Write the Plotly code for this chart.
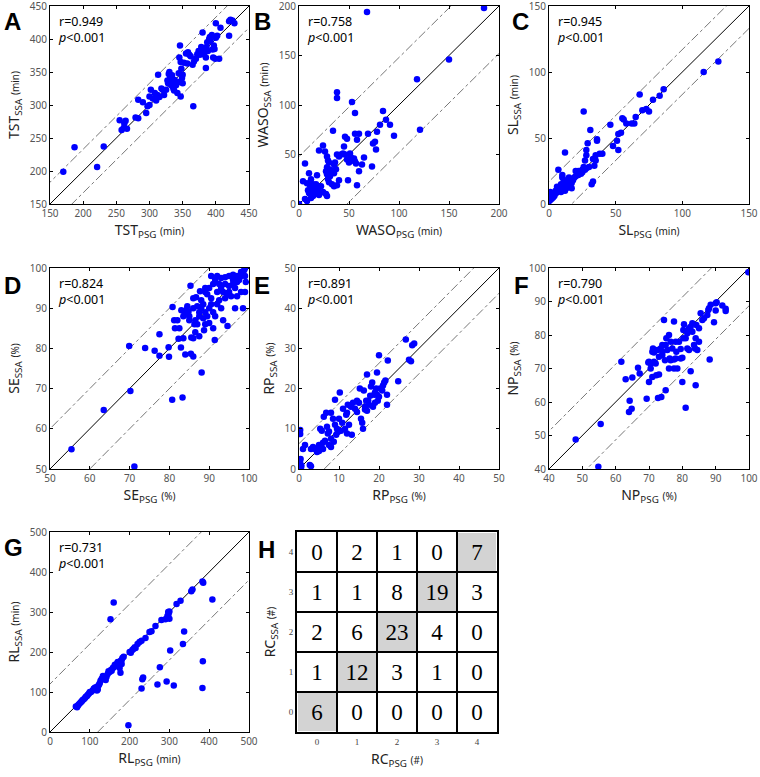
import plotly.graph_objects as go

# ---------------- DATA ----------------
tst_psg = [170,187,221,231,255,258,261,262,264,266,279,283,283,290,295,297,300,300,302,305,308,310,312,313,315,318,320,322,325,327,328,329,330,331,332,333,334,335,336,337,338,340,342,344,345,345,346,347,347,348,349,350,350,352,355,357,358,360,362,365,366,367,370,372,374,376,378,379,380,381,382,383,385,385,386,387,388,390,391,392,394,395,396,397,398,399,400,400,402,405,407,420,420,422,425,428]
tst_ssa = [199,236,206,237,277,262,265,272,276,264,281,280,308,304,288,298,300,313,323,310,318,307,315,346,312,325,323,315,323,337,333,347,350,340,335,330,345,328,325,322,338,330,318,348,335,372,390,313,365,355,341,346,333,364,378,363,380,376,374,361,298,366,370,377,382,376,388,380,410,377,383,380,356,372,388,395,382,400,403,397,406,384,372,390,385,370,424,402,405,370,417,405,427,429,428,424]

waso_psg = [0,68,185,150,118,121,38,38,53,56,34,84,87,81,91,95,78,76,74,77,73,69,60,56,58,46,48,45,24,20,6,4,10,12,8,18,26,28,29,30,28,27,30,32,28,31,29,33,30,35,36,38,40,42,44,46,48,49,50,51,52,53,55,56,57,58,60,63,65,35,38,40,37,35,33,13,15,16,18,19,20,21,14,12,10,9,8,6,22,24,28,27,17,11,14]
waso_ssa = [0,194,198,146,126,75,113,107,103,92,74,94,85,80,80,69,73,63,61,55,38,71,71,71,65,68,66,58,59,54,41,23,31,25,21,29,53,48,44,42,37,33,35,33,30,28,25,20,22,40,42,50,48,50,51,50,45,24,42,51,47,44,46,43,41,19,33,40,47,18,19,24,35,31,34,17,13,10,12,16,9,11,8,6,11,14,3,5,18,12,8,10,20,19,20]

sl_psg = [127,116,86,83,78,68,75,73,70,65,64,62,58,55,56,54,52,46,26,31,36,36,29,28,48,51,52,38,40,35,33,35,34,33,32,28,27,26,28,30,25,22,20,23,24,21,19,18,17,16,15,14,13,12,7,10,10,11,9,8,7,6,5,4,3,2,1,1,0,0,2,11,12,13,14,12,9,6,5,15,16,17,20,22,25,27]
sl_ssa = [108,100,87,82,79,83,70,72,71,66,61,61,61,65,64,54,53,60,70,56,49,48,46,41,44,48,41,38,38,37,34,33,29,17,15,37,33,28,27,28,26,25,25,24,23,24,20,18,16,15,14,13,12,39,26,22,20,17,15,13,12,10,8,6,5,4,3,9,2,6,8,12,14,18,16,10,9,13,10,20,18,12,21,22,24,26]

se_psg = [55.4,63.5,70.2,69.9,71.2,73.9,80.8,81.2,81.4,77.5,76.3,77.5,79.8,79.9,82.3,82.9,85.4,80.7,83.3,88.1,94.6,91.4,85.3,86,86.7,89,87.7,84.3,84.8,83.8,84,85,86,86.5,87,87.5,88,88.5,89,89.5,90,90.5,91,91.5,92,92.5,93,93.5,92,93,94,95,96,97,97.5,98,98.5,99,99,96,95,96.5,97,98,98.5,99,95.5,94.5,93.5,92.5,91.5,90.5,92,91,89.5,90,88,87,86,85.5,86.3,87.5,88.5,89,90,91,89,88.7,87.5,86.5,85,84.5,83.5,83,82,82.5,83.5,84,86,90.5,94,96.5,97,95,93,94,96,98.8,99.2,97.8]
se_ssa = [54.9,64.7,69.4,80.6,50.6,80.1,90.3,87,85,83.5,79.4,78.2,80.3,77.9,82.4,80.2,78.7,67.2,67.8,74,85.6,82.1,95.6,92.5,92.7,94,94.2,89.6,89.2,88.4,89,88,90,87,86,89,90,91,89,88,90,91,89,88,91,92,90,87,94,95,96,98,97,98,97,99,99,100,98,96,94,95,93,94,90,94,93,93.5,94,96,97,98,98,96,93.5,95,92,90.5,82.5,82.7,86,88,87.5,86,86.3,85,95,84.5,83,84,87,90.5,88,89.5,87,85,82.5,78.5,78,92.5,92.5,90,96.5,95.5,97.5,97.7,98.3,99.5,96.5,97.8]

rp_psg = [0.3,0.3,0.4,0.3,0.5,0.6,1,1.5,2.7,3,3.5,4,4.5,5,5.3,5.5,6,6.2,6.5,6.8,7,7.2,7.5,8,8,8.5,8.7,9,9,9.3,9.7,10,10.2,10.5,11,11.5,12,12.2,12.5,13,13.5,14,14.5,15,15.2,15.5,15.8,16,16.2,16.5,16.8,17,17.3,17.5,18,18.3,18.5,18.8,19,19.3,19.5,19.7,20,20,20.3,20.8,21,21.3,21.6,22,22,22.2,24.8,26.7,27.5,28,28.3,28.8,11.8,13.2,10.8,14.5,16.5,19,19.5,17.8,17,12,8,7.5,9.5,6,5,3,5.7]
rp_ssa = [9.7,8.7,2.5,1.5,0.3,0.8,5,6,1,0.7,5.5,5,4.2,6,10,5.5,6.5,13,7,14,10.5,8.8,6,7.5,14,12.5,6.8,11,17.2,8.5,9.2,12.5,19,9.5,15,10,14,16,11,15.5,16.5,15,17,16.5,20,12.5,11.5,10,19.5,15.5,17,23.5,17,16,20.5,21.5,15.5,18.5,19,20,24,17,28.3,18,20,19.5,20.8,21.5,22,16,18.5,27,21.8,32.2,27.2,26.8,30.8,31.2,13.5,8.5,11.5,14.2,14.8,16.5,18.5,18.2,14.5,8.8,5.5,9.3,10,5,4.5,5,9.5]

np_psg = [99.8,48,55.5,54.8,61.7,63,65,64.2,64,64.8,66.7,67.2,69.3,70,70.5,71,71.2,71.5,72,72.2,72.5,73,73.5,74,74.5,74.8,75,75.2,75.5,76,76.2,76.5,77,77.5,77.5,78,78.2,78.5,79,79.5,80,80,80.3,80.5,81,81,81.5,82,82,82.5,83,83,83.5,83.8,84,84,84.2,84.5,85,85,85.5,86,86.5,87.5,87.8,88,88.2,88.5,89.5,90,90.3,90,92,93,93,73.7,72.7,75,70.5,69.8,70,71,73,74,76.5,77.5,78,79.5,80.3,82.5,81.5,76,74,71.5]
np_ssa = [98.7,48.8,53.4,40.7,72,66.8,67.3,60.4,57,58,70.2,68.5,61,72,71.5,75,76,72,71.5,68,75.5,73.5,76,75,84.5,72.5,77,79,75.5,70,73,72.5,76,84,72.7,78,75,70,78,73,66,73.2,81.5,83.2,79,58.3,80.5,82,75.5,69.2,81,83.5,77,76,79,65,83,75.5,82,78,86.5,84.5,85,86,87.5,88,72.7,89,83.8,89.5,89.8,87.3,88.8,87.8,87.2,61.5,61.2,63.5,70,71.8,66,67.5,68.2,74,78,70,73,75.8,79,82.5,76,80,77,74.8]

rl_psg = [197,160,152,408,384,383,337,334,302,276,270,293,311,232,234,230,177,65,68,70,72,75,78,80,82,85,88,90,93,95,98,100,103,107,110,112,115,118,120,121,123,125,127,130,133,135,137,140,142,145,147,150,153,155,158,160,163,165,168,170,173,175,178,180,182,185,180,200,203,207,210,213,215,220,225,230,240,250,255,265,280,290,295,297,298,300,300,318,328,355,358,383,385]
rl_ssa = [17,324,282,331,177,110,251,220,204,162,119,126,116,132,136,109,148,64,62,66,69,72,75,77,80,82,85,88,90,93,96,100,100,104,108,110,112,104,106,115,118,122,128,133,140,137,133,130,138,145,152,150,155,153,160,162,168,165,170,175,168,160,178,180,185,188,170,200,198,205,208,212,210,220,225,228,235,250,252,265,280,282,290,300,295,283,301,320,328,352,356,376,373]

# limits of agreement (offset of dash-dot lines), axis limits and ticks
loa = [33, 48, 17, 10, 6.3, 11.3, 120]
limits = [[150, 450], [0, 200], [0, 150], [50, 100], [0, 50], [40, 100], [0, 500]]
tick_steps = [50, 50, 50, 10, 10, 10, 100]
r_values = ["0.949", "0.758", "0.945", "0.824", "0.891", "0.790", "0.731"]
names = ["TST", "WASO", "SL", "SE", "RP", "NP", "RL"]
units = ["(min)", "(min)", "(min)", "(%)", "(%)", "(%)", "(min)"]
letters = ["A", "B", "C", "D", "E", "F", "G", "H"]

rc_labels = [0, 1, 2, 3, 4]
# rows: RC_SSA = 0..4 ; columns: RC_PSG = 0..4
rc_counts = [
    [6, 0, 0, 0, 0],
    [1, 12, 3, 1, 0],
    [2, 6, 23, 4, 0],
    [1, 1, 8, 19, 3],
    [0, 2, 1, 0, 7],
]

psg_all = [tst_psg, waso_psg, sl_psg, se_psg, rp_psg, np_psg, rl_psg]
ssa_all = [tst_ssa, waso_ssa, sl_ssa, se_ssa, rp_ssa, np_ssa, rl_ssa]

# ---------------- LAYOUT GEOMETRY ----------------
W, H = 760, 777
cols_px = [(50, 249), (299, 499), (549, 749)]
rows_px = [(6, 204), (268, 469), (532, 732)]

def xd(c):
    return [cols_px[c][0] / W, cols_px[c][1] / W]

def yd(r):
    return [1 - rows_px[r][1] / H, 1 - rows_px[r][0] / H]

FONT = "Noto Sans"
tickfont = dict(family=FONT, size=10, color="#555")
titlefont = dict(family=FONT, size=14, color="#222")

fig = go.Figure()
annotations = []

for i in range(7):
    n = i + 1
    r, c = divmod(i, 3)
    xa = "x" if n == 1 else f"x{n}"
    ya = "y" if n == 1 else f"y{n}"
    lo, hi = limits[i]
    ticks = list(range(lo, hi + 1, tick_steps[i]))
    # identity line
    fig.add_trace(go.Scatter(x=[lo, hi], y=[lo, hi], mode="lines",
                             line=dict(color="black", width=1), xaxis=xa, yaxis=ya,
                             showlegend=False, hoverinfo="skip"))
    for s in (1, -1):
        fig.add_trace(go.Scatter(x=[lo - 200, hi + 200],
                                 y=[lo - 200 + s * loa[i], hi + 200 + s * loa[i]],
                                 mode="lines",
                                 line=dict(color="#777", width=1, dash="dashdot"),
                                 xaxis=xa, yaxis=ya, showlegend=False, hoverinfo="skip"))
    fig.add_trace(go.Scatter(x=psg_all[i], y=ssa_all[i], mode="markers",
                             marker=dict(color="#0000ff", size=6.5, line=dict(width=0)),
                             xaxis=xa, yaxis=ya, showlegend=False))
    unit = units[i]
    common = dict(showline=True, linecolor="black", linewidth=1, mirror="ticks",
                  ticks="inside", ticklen=3, tickcolor="black", showgrid=False,
                  zeroline=False, tickvals=ticks, tickfont=tickfont,
                  ticklabeloverflow="allow", range=[lo, hi], automargin=False)
    fig.layout[f"xaxis{n if n > 1 else ''}"] = dict(
        domain=xd(c), anchor=ya, **common,
        title=dict(text=f"{names[i]}<sub>PSG</sub> <span style='font-size:10px'>{unit}</span>",
                   font=titlefont, standoff=6))
    fig.layout[f"yaxis{n if n > 1 else ''}"] = dict(
        domain=yd(r), anchor=xa, **common,
        title=dict(text=f"{names[i]}<sub>SSA</sub> <span style='font-size:10px'>{unit}</span>",
                   font=titlefont, standoff=6))
    annotations.append(dict(
        text=f"r={r_values[i]}<br><i>p</i>&lt;0.001", xref=f"{xa} domain", yref=f"{ya} domain",
        x=0.03, y=0.975, xanchor="left", yanchor="top", align="left", showarrow=False,
        font=dict(family=FONT, size=12.5, color="black")))

# ---------------- PANEL H (confusion matrix) ----------------
diag = [[1 if a == b else 0 for b in rc_labels] for a in rc_labels]
fig.add_trace(go.Heatmap(
    x=rc_labels, y=rc_labels, z=diag, text=rc_counts, texttemplate="%{text}",
    textfont=dict(family="Liberation Serif", size=23, color="black"),
    colorscale=[[0, "white"], [1, "#d3d3d3"]], showscale=False, xgap=2, ygap=2,
    xaxis="x8", yaxis="y8", hoverinfo="skip"))
hcommon = dict(range=[-0.5, 4.5], tickvals=rc_labels, showline=True, linecolor="black",
               linewidth=2, mirror=True, ticks="", showgrid=False, zeroline=False,
               tickfont=dict(family="Liberation Serif", size=9, color="#444"), automargin=False,
               minor=dict(tickmode="linear", tick0=0.5, dtick=1, showgrid=True,
                          gridcolor="black", gridwidth=2, ticks=""))
fig.layout["xaxis8"] = dict(domain=[297 / W, 497 / W], anchor="y8", **hcommon,
                            title=dict(text="RC<sub>PSG</sub> <span style='font-size:10px'>(#)</span>",
                                       font=titlefont, standoff=8))
fig.layout["yaxis8"] = dict(domain=yd(2), anchor="x8", **hcommon,
                            title=dict(text="RC<sub>SSA</sub> <span style='font-size:10px'>(#)</span>",
                                       font=titlefont, standoff=10))

# panel letters
letter_pos = [(2, 6), (252, 6), (510, 6), (2, 270), (252, 270), (512, 270), (2, 532), (256, 534)]
for L, (px, py) in zip(letters, letter_pos):
    annotations.append(dict(text=f"<b>{L}</b>", xref="paper", yref="paper",
                            x=px / W, y=1 - py / H, xanchor="left", yanchor="top",
                            showarrow=False, font=dict(family="Liberation Sans", size=24, color="black")))

fig.update_layout(width=W, height=H, margin=dict(l=0, r=0, t=0, b=0),
                  plot_bgcolor="white", paper_bgcolor="white", annotations=annotations,
                  showlegend=False)
fig.write_html("out.html", config={"displayModeBar": False},
               post_script="document.body.style.margin='0';document.body.style.overflow='hidden';")
